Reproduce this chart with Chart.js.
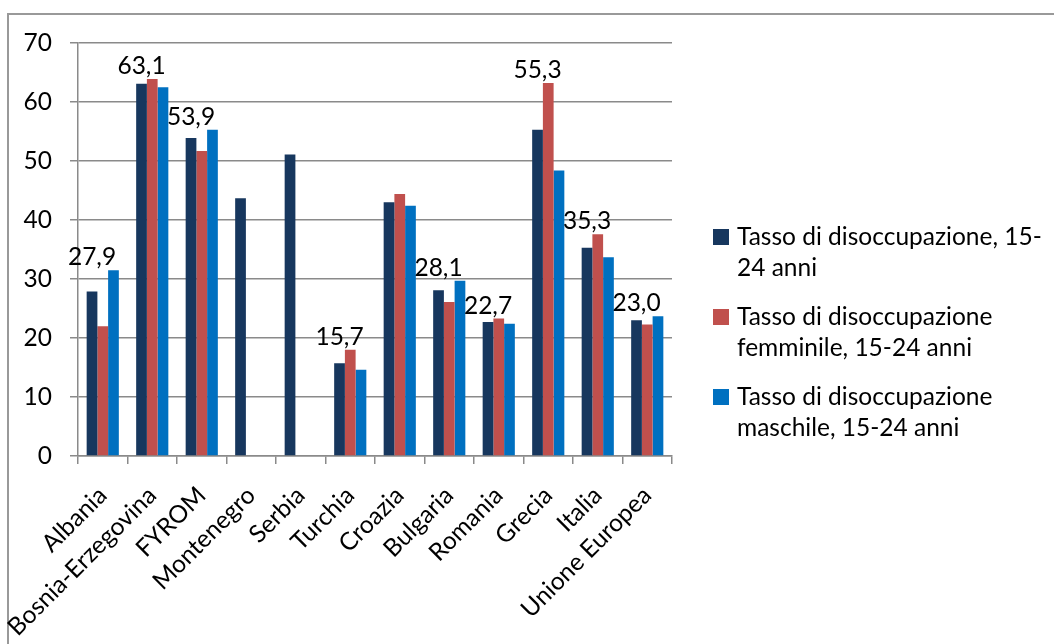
<!DOCTYPE html>
<html lang="it">
<head>
<meta charset="utf-8">
<title>Disoccupazione giovanile</title>
<script src="https://cdn.jsdelivr.net/npm/chart.js@4/dist/chart.umd.min.js"></script>
<style>
  html, body { margin: 0; padding: 0; background: #fff; }
  #wrap { width: 1054px; height: 644px; }
</style>
</head>
<body>
<div id="wrap"><canvas id="grafico" width="1054" height="644"></canvas></div>
<script>
// dati
var paesi = ['Albania', 'Bosnia-Erzegovina', 'FYROM', 'Montenegro', 'Serbia', 'Turchia',
             'Croazia', 'Bulgaria', 'Romania', 'Grecia', 'Italia', 'Unione Europea'];
var tassoTotale    = [27.9, 63.1, 53.9, 43.7, 51.1, 15.7, 43.0, 28.1, 22.7, 55.3, 35.3, 23.0];
var tassoFemminile = [22.0, 63.9, 51.7, null, null, 18.0, 44.4, 26.1, 23.3, 63.2, 37.6, 22.3];
var tassoMaschile  = [31.5, 62.5, 55.3, null, null, 14.6, 42.4, 29.7, 22.4, 48.4, 33.7, 23.7];
// quali barre del tasso totale riportano il valore
var conEtichetta = [true, true, true, false, false, true, false, true, true, true, true, true];
var nomiSerie = [
  ['Tasso di disoccupazione, 15-', '24 anni'],
  ['Tasso di disoccupazione', 'femminile, 15-24 anni'],
  ['Tasso di disoccupazione', 'maschile, 15-24 anni']
];
var coloriSerie = ['#17375E', '#C0504D', '#0070C0'];
var asseYMin = 0, asseYMax = 70, asseYPasso = 10;

var FONT = 'Lato, "Open Sans", sans-serif';
var FONT_SIZE = 24.5;
var GRIGIO = '#8a8a8a';

Chart.defaults.font.family = FONT;
Chart.defaults.font.size = FONT_SIZE;
Chart.defaults.color = '#000';

function formatta(v) {
  return v.toFixed(1).replace('.', ',');
}

// sfondo e cornice esterna
var cornice = {
  id: 'cornice',
  beforeDraw: function(chart) {
    var ctx = chart.ctx;
    ctx.save();
    ctx.fillStyle = '#fff';
    ctx.fillRect(0, 0, chart.width, chart.height);
    ctx.strokeStyle = '#999';
    ctx.lineWidth = 2;
    ctx.strokeRect(8, 14, chart.width + 20, chart.height + 20);
    ctx.restore();
  }
};

// valori sopra il gruppo di barre
var etichette = {
  id: 'etichette',
  afterDatasetsDraw: function(chart) {
    var ctx = chart.ctx;
    var meta0 = chart.getDatasetMeta(0);
    ctx.save();
    ctx.font = FONT_SIZE + 'px ' + FONT;
    ctx.fillStyle = '#000';
    ctx.textAlign = 'center';
    ctx.textBaseline = 'alphabetic';
    for (var i = 0; i < paesi.length; i++) {
      if (!conEtichetta[i]) continue;
      var top = Infinity;
      chart.data.datasets.forEach(function(ds, d) {
        if (ds.data[i] == null) return;
        var el = chart.getDatasetMeta(d).data[i];
        if (el && isFinite(el.y)) top = Math.min(top, el.y);
      });
      ctx.fillText(formatta(tassoTotale[i]), meta0.data[i].x, top - 5);
    }
    ctx.restore();
  }
};

// legenda su due righe per voce
var legenda = {
  id: 'legenda',
  afterDraw: function(chart) {
    var ctx = chart.ctx;
    var x = chart.chartArea.right + 41;
    var y = 237;
    ctx.save();
    ctx.font = FONT_SIZE + 'px ' + FONT;
    ctx.textBaseline = 'middle';
    ctx.textAlign = 'left';
    chart.data.datasets.forEach(function(ds) {
      ctx.fillStyle = ds.backgroundColor;
      ctx.fillRect(x, y - 8, 16, 16);
      ctx.fillStyle = '#000';
      ds.label.forEach(function(riga, k) {
        ctx.fillText(riga, x + 24, y + k * 31);
      });
      y += 80;
    });
    ctx.restore();
  }
};

var serie = [tassoTotale, tassoFemminile, tassoMaschile].map(function(valori, d) {
  return {
    label: nomiSerie[d],
    data: valori,
    backgroundColor: coloriSerie[d],
    borderWidth: 0,
    categoryPercentage: 0.65,
    barPercentage: 1.0
  };
});

new Chart(document.getElementById('grafico'), {
  type: 'bar',
  data: { labels: paesi, datasets: serie },
  options: {
    responsive: false,
    animation: false,
    devicePixelRatio: 1,
    layout: { padding: { top: 43, right: 382, left: 0, bottom: 0 } },
    plugins: {
      legend: { display: false },
      tooltip: { enabled: false }
    },
    scales: {
      x: {
        grid: { drawOnChartArea: false, tickLength: 8, color: GRIGIO, lineWidth: 1.5 },
        border: { color: GRIGIO, width: 1.5 },
        ticks: { autoSkip: false, minRotation: 45, maxRotation: 45, padding: 17, color: '#000' },
        afterFit: function(s) { s.height = 188; }
      },
      y: {
        min: asseYMin,
        max: asseYMax,
        grid: { tickLength: 8, color: GRIGIO, lineWidth: 1.5 },
        border: { color: GRIGIO, width: 1.5 },
        ticks: { stepSize: asseYPasso, padding: 18, color: '#000' },
        afterFit: function(s) { s.width = 78; }
      }
    }
  },
  plugins: [cornice, etichette, legenda]
});
</script>
</body>
</html>
